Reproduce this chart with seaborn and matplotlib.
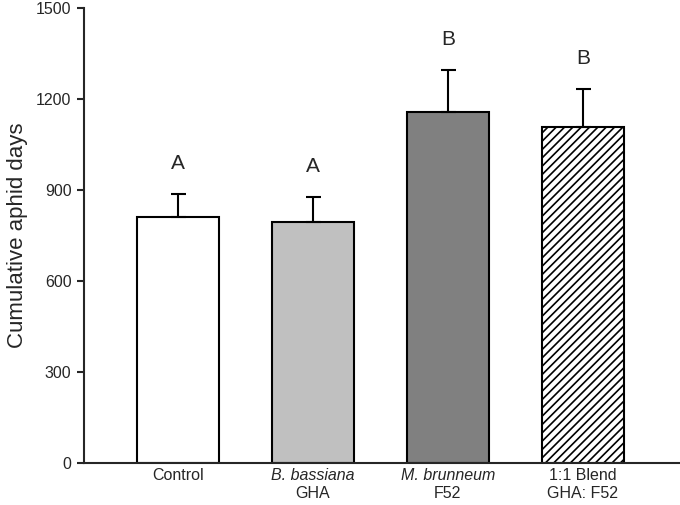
import numpy as np
import pandas as pd
import seaborn as sns
import matplotlib.pyplot as plt

# values
treatments = ['Control', 'B. bassiana GHA', 'M. brunneum F52', '1:1 Blend GHA: F52']
label_line1 = ['Control', 'B. bassiana', 'M. brunneum', '1:1 Blend']
label_line2 = ['', 'GHA', 'F52', 'GHA: F52']
italic_line1 = [False, True, True, False]
means = [812, 794, 1158, 1107]
errors = [74, 82, 137, 126]
letters = ['A', 'A', 'B', 'B']
bar_colors = ['#ffffff', '#c0c0c0', '#808080', '#ffffff']

data = pd.DataFrame({'treatment': treatments, 'mean': means})

sns.set_style('ticks')
plt.rcParams['font.family'] = ['Liberation Sans', 'DejaVu Sans']
plt.rcParams['hatch.linewidth'] = 1.2

fig = plt.figure(figsize=(6.8, 5.05), dpi=100)
ax = fig.add_axes([0.1235, 0.083, 0.8765, 0.901])

sns.barplot(data=data, x='treatment', y='mean', hue='treatment',
            palette=bar_colors, legend=False, width=0.607,
            edgecolor='black', linewidth=1.5, saturation=1, ax=ax)
ax.patches[3].set_hatch('////')

x = np.arange(len(treatments))
ax.errorbar(x, means, yerr=[np.zeros(len(errors)), errors], fmt='none',
            ecolor='black', elinewidth=1.5, capsize=5.4, capthick=1.5)

for xi, m, e, lt in zip(x, means, errors, letters):
    ax.text(xi, m + e + 102, lt, ha='center', va='center', fontsize=15)

ax.set_xlim(-0.696, 3.72)
ax.set_ylim(0, 1500)
ax.set_yticks([0, 300, 600, 900, 1200, 1500])
ax.tick_params(axis='y', labelsize=11.5, length=5, width=1.5, direction='out', pad=4)
ax.tick_params(axis='x', length=0)
ax.set_xticks(x)
ax.set_xticklabels([''] * len(x))
ax.set_xlabel('')
ax.set_ylabel('Cumulative aphid days', fontsize=16, labelpad=6)

for xi, l1, l2, it in zip(x, label_line1, label_line2, italic_line1):
    ax.text(xi, -0.028, l1, transform=ax.get_xaxis_transform(), ha='center', va='center',
            fontsize=11.5, style='italic' if it else 'normal')
    ax.text(xi, -0.066, l2, transform=ax.get_xaxis_transform(), ha='center', va='center',
            fontsize=11.5)

for s in ['top', 'right']:
    ax.spines[s].set_visible(False)
for s in ['left', 'bottom']:
    ax.spines[s].set_linewidth(1.5)

fig.savefig('out.png', dpi=100)
